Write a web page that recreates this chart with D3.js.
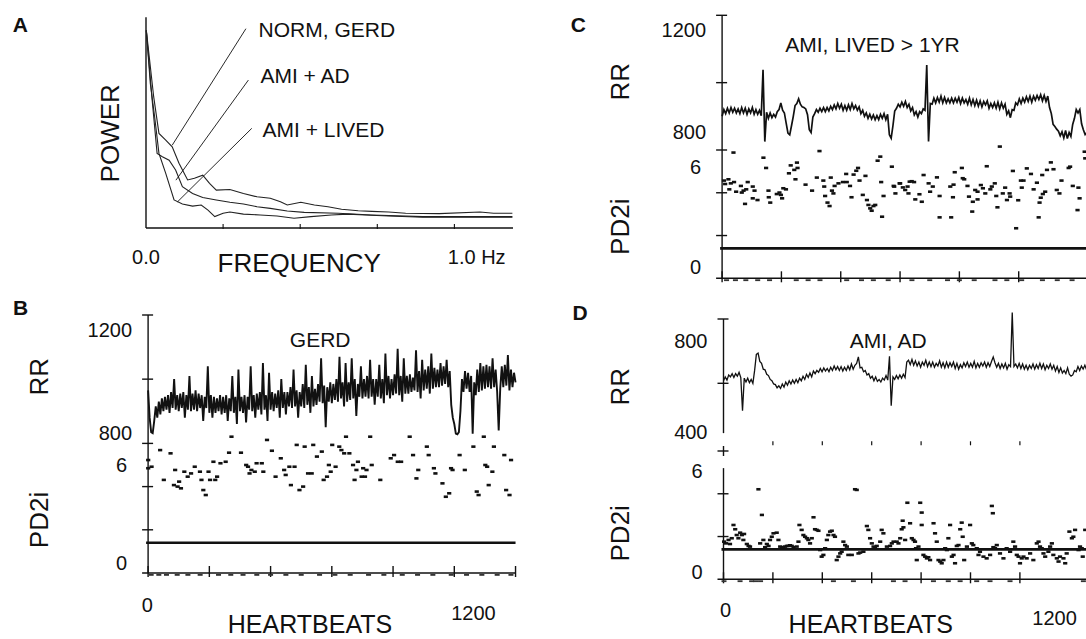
<!DOCTYPE html>
<html>
<head>
<meta charset="utf-8">
<script src="https://cdn.jsdelivr.net/npm/d3@7"></script>
<style>
  body { margin: 0; background: #fff; }
  svg { display: block; font-family: "Liberation Sans", Arial, Helvetica, sans-serif; }
</style>
</head>
<body>
<script>
// ---------- panel A : power spectra (Hz, relative power) ----------
const normGerdSpectrum = [[0.001, 93.8], [0.025, 62.2], [0.042, 44.9], [0.064, 41.7], [0.085, 38.5], [0.107, 30.7],
    [0.135, 22.8], [0.157, 23.6], [0.184, 25.1], [0.206, 21.2], [0.228, 18.0], [0.272, 18.3], [0.316, 16.4],
    [0.360, 14.8], [0.403, 14.1], [0.436, 12.5], [0.458, 10.9], [0.502, 12.2], [0.546, 10.9], [0.590, 10.1],
    [0.634, 8.9], [0.688, 8.2], [0.732, 7.9], [0.787, 7.6], [0.842, 7.0], [0.951, 6.8], [1.083, 7.6],
    [1.127, 7.0], [1.188, 7.0]];
const amiAdSpectrum = [[0.001, 93.8], [0.020, 60.7], [0.036, 35.4], [0.053, 33.8], [0.075, 32.2], [0.096, 27.5],
    [0.118, 19.6], [0.151, 16.4], [0.184, 14.5], [0.228, 13.3], [0.272, 12.2], [0.316, 11.4], [0.360, 10.1],
    [0.403, 9.3], [0.458, 8.1], [0.513, 7.4], [0.623, 7.0], [0.732, 6.2], [0.897, 5.4], [1.188, 5.4]];
const amiLivedSpectrum = [[0.001, 93.8], [0.014, 68.6], [0.028, 52.8], [0.042, 35.4], [0.064, 25.9], [0.091, 13.3],
    [0.118, 11.4], [0.151, 10.4], [0.179, 10.9], [0.201, 8.5], [0.223, 5.4], [0.250, 7.0], [0.272, 7.6],
    [0.316, 6.6], [0.370, 6.2], [0.425, 5.7], [0.480, 4.6], [0.535, 5.4], [0.601, 6.2], [0.655, 6.6],
    [0.710, 6.2], [0.787, 5.7], [0.897, 5.1], [1.188, 5.1]];
const spectrumNames = ['NORM, GERD', 'AMI + AD', 'AMI + LIVED'];
const leaderFrom = [[0.085, 39.3], [0.097, 22.7], [0.102, 12.4]];
const leaderTo = [[0.324, 94.6], [0.332, 70.2], [0.343, 47.3]];
const spectrumLabelAt = [[0.365, 90.7], [0.371, 68.7], [0.378, 43.3]];
const freqTicks = [0, 0.25, 0.5, 0.75, 1.0];
const freqLabels = ['0.0', '1.0 Hz'];

// ---------- panel B : GERD (RR every 5 beats) ----------
const gerdRR = [
    965, 880, 835, 832, 870, 915, 880, 930, 890, 940,
    900, 945, 905, 950, 895, 960, 910, 1000, 905, 950,
    900, 955, 910, 960, 880, 950, 905, 1010, 900, 955,
    905, 965, 900, 955, 910, 950, 870, 945, 910, 1040,
    895, 950, 880, 945, 895, 940, 900, 950, 890, 945,
    895, 950, 870, 940, 900, 1010, 895, 945, 860, 1030,
    900, 945, 895, 950, 865, 945, 905, 1040, 900, 950,
    880, 955, 905, 960, 890, 1050, 905, 950, 870, 1020,
    905, 960, 900, 955, 910, 965, 880, 1000, 910, 960,
    890, 960, 915, 975, 910, 1030, 915, 965, 880, 960,
    915, 985, 910, 1045, 920, 975, 895, 1010, 915, 970,
    920, 985, 930, 1065, 925, 980, 850, 975, 930, 990,
    925, 985, 935, 1000, 930, 1070, 940, 990, 915, 1050,
    930, 990, 935, 1065, 940, 1000, 885, 985, 945, 1040,
    940, 1000, 945, 1010, 940, 1060, 945, 1000, 920, 1000,
    945, 1045, 940, 1000, 925, 1080, 950, 1010, 940, 1000,
    950, 1015, 955, 1095, 950, 1010, 930, 1065, 955, 1010,
    955, 1015, 960, 1005, 965, 1090, 960, 1025, 940, 1060,
    965, 1030, 970, 1040, 955, 1080, 970, 1035, 975, 1030,
    975, 1050, 980, 1040, 985, 1060, 975, 1025, 920, 880,
    860, 830, 828, 835, 900, 1000, 960, 1025, 970, 1020,
    960, 1010, 830, 990, 950, 1030, 960, 1050, 965, 1040,
    970, 1045, 975, 1040, 970, 1065, 975, 1030, 960, 840,
    970, 1040, 975, 1045, 980, 1075, 965, 1030, 975, 1020,
    990];
const gerdPD2i = [[0, 5.23], [0, 4.85], [11, 4.92], [39, 5.69], [51, 4.31], [73, 5.54], [88, 4.77], [84, 4.07],
    [96, 4.0], [107, 3.92], [101, 4.23], [118, 4.69], [129, 4.46], [140, 4.61], [152, 4.92], [169, 4.69],
    [174, 4.31], [180, 3.84], [188, 3.61], [197, 4.69], [202, 4.31], [213, 5.15], [219, 4.31], [225, 4.46],
    [236, 5.08], [253, 5.15], [264, 5.57], [272, 6.31], [303, 5.57], [320, 5.0], [326, 4.92], [331, 4.61],
    [337, 4.77], [348, 4.69], [354, 5.08], [371, 5.08], [376, 4.69], [388, 6.16], [404, 5.66], [416, 4.46],
    [433, 5.31], [444, 4.77], [449, 4.54], [461, 4.92], [466, 4.07], [478, 4.92], [485, 5.93], [494, 3.84],
    [506, 4.0], [511, 5.85], [522, 4.61], [534, 4.61], [539, 5.93], [551, 5.39], [567, 5.62], [573, 4.31],
    [584, 4.46], [590, 5.0], [596, 4.69], [601, 5.93], [612, 4.92], [624, 5.85], [631, 5.69], [640, 5.54],
    [646, 6.31], [657, 5.54], [669, 5.0], [674, 4.31], [680, 4.77], [685, 5.15], [697, 4.46], [702, 4.85],
    [708, 4.46], [713, 4.77], [725, 6.31], [730, 5.0], [758, 4.31], [792, 5.31], [803, 5.46], [815, 5.15],
    [826, 5.15], [854, 6.31], [865, 5.46], [876, 4.38], [882, 4.77], [910, 5.85], [916, 5.46], [933, 4.85],
    [938, 4.61], [961, 4.15], [972, 3.53], [983, 3.69], [989, 4.85], [994, 4.77], [1017, 5.46], [1034, 4.77],
    [1062, 5.85], [1073, 3.77], [1079, 3.61], [1096, 6.31], [1101, 5.0], [1107, 4.92], [1112, 4.07],
    [1124, 4.69], [1129, 5.85], [1163, 5.46], [1169, 3.84], [1180, 3.61], [1185, 5.23]];
const gerdZeroBeats = [10, 35, 60, 95, 130, 170, 230, 270, 310, 355, 400, 450, 500, 560, 610, 660, 720, 770,
    830, 880, 930, 990, 1040, 1090, 1140, 1185];

// ---------- panel C : AMI, lived > 1 yr (RR every 6 beats) ----------
const livedRR = [
    900, 920, 908, 924, 910, 926, 912, 924, 910, 922,
    908, 926, 910, 924, 906, 922, 910, 926, 906, 920,
    906, 918, 902, 1038, 825, 912, 894, 910, 896, 906,
    898, 914, 920, 940, 918, 910, 880, 850, 845, 872,
    900, 932, 938, 952, 936, 928, 926, 922, 905, 860,
    852, 898, 908, 920, 912, 924, 914, 926, 914, 926,
    916, 930, 920, 934, 922, 938, 924, 936, 918, 932,
    918, 934, 920, 938, 922, 932, 918, 928, 908, 918,
    900, 910, 894, 906, 892, 904, 890, 902, 890, 906,
    894, 908, 890, 906, 845, 835, 872, 916, 924, 936,
    928, 942, 930, 944, 926, 936, 916, 926, 904, 914,
    898, 914, 908, 922, 918, 1052, 825, 938, 936, 954,
    940, 956, 942, 960, 940, 956, 940, 952, 940, 954,
    940, 954, 942, 956, 938, 954, 940, 950, 936, 954,
    934, 950, 932, 948, 930, 946, 928, 944, 934, 946,
    924, 938, 926, 940, 924, 942, 922, 940, 924, 936,
    906, 916, 896, 920, 918, 940, 934, 952, 938, 954,
    942, 958, 944, 960, 942, 960, 948, 962, 950, 964,
    946, 962, 944, 960, 926, 908, 876, 870, 862, 856,
    842, 854, 836, 858, 834, 852, 840, 876, 894, 920,
    910, 920, 878, 860, 846, 852];
const livedPD2i = [[38, 5.88], [6, 4.57], [10, 4.41], [21, 4.63], [29, 4.44], [40, 4.50], [24, 4.16], [47, 4.05],
    [63, 4.32], [66, 4.01], [72, 4.10], [81, 4.16], [86, 4.50], [77, 3.48], [103, 4.29], [109, 4.10], [103, 3.74],
    [119, 3.66], [139, 5.64], [148, 5.16], [156, 4.10], [157, 3.79], [162, 3.54], [184, 3.94], [193, 4.01],
    [198, 3.90], [202, 3.74], [206, 4.21], [215, 4.16], [225, 4.91], [231, 5.28], [243, 5.07], [252, 5.41],
    [254, 5.16], [247, 4.63], [281, 4.38], [303, 4.10], [319, 4.71], [328, 5.95], [341, 4.57], [344, 4.29],
    [347, 3.85], [355, 3.54], [362, 3.38], [366, 4.71], [370, 4.10], [375, 3.97], [379, 4.32], [392, 4.44],
    [407, 4.50], [418, 4.88], [420, 4.50], [431, 4.32], [436, 3.79], [443, 4.85], [452, 5.03], [458, 5.16],
    [463, 4.57], [474, 3.90], [483, 4.79], [488, 3.66], [493, 3.43], [499, 3.27], [504, 3.16], [510, 3.38],
    [516, 3.43], [524, 5.50], [533, 5.69], [536, 4.50], [539, 2.88], [544, 3.85], [572, 5.22], [580, 4.29],
    [584, 3.97], [598, 4.44],
    [578, 4.32], [600, 4.44], [609, 4.25], [617, 4.13], [625, 4.29], [632, 4.52], [639, 4.54], [647, 4.50],
    [628, 3.97], [651, 3.69], [665, 3.93], [673, 3.58], [679, 4.83], [696, 4.44], [701, 4.05], [710, 4.29],
    [724, 4.72], [733, 3.85], [733, 2.85], [772, 2.85], [778, 3.79], [769, 4.29], [780, 4.38], [784, 4.96],
    [808, 5.16], [816, 4.63], [811, 4.68], [827, 4.32], [832, 3.82], [845, 3.58], [843, 3.12], [853, 4.13],
    [861, 3.69], [861, 4.05], [872, 4.36], [879, 4.21], [887, 3.97], [892, 5.24], [904, 4.16], [909, 4.29],
    [919, 4.44], [924, 3.85], [928, 3.32], [936, 6.16], [946, 3.97], [954, 4.24], [960, 3.66], [969, 3.97],
    [971, 3.82], [980, 5.02], [991, 2.34], [998, 3.65], [1007, 4.57], [1010, 4.24], [1016, 4.57], [1027, 5.14],
    [1041, 4.88], [1050, 4.16], [1061, 4.47], [1067, 2.85], [1070, 3.54], [1074, 3.77], [1081, 3.94],
    [1089, 4.05], [1079, 4.83], [1095, 5.07], [1108, 5.42], [1117, 5.10], [1128, 4.13], [1137, 3.97],
    [1144, 4.57], [1168, 5.16], [1173, 5.22], [1182, 4.32], [1198, 3.19], [1201, 4.24], [1205, 3.74],
    [1222, 5.92], [1224, 5.61]];
const livedZeroBeats = [15, 45, 80, 120, 160, 250, 290, 330, 420, 470, 510, 560, 640, 700, 760, 800, 850, 920,
    960, 1010, 1080, 1130, 1180, 1240];

// ---------- panel D : AMI, arrhythmic death (RR every 7 beats) ----------
const adRR = [
    608, 620, 610, 626, 620, 630, 618, 630, 622, 634,
    618, 515, 616, 604, 616, 602, 612, 600, 640, 690,
    694, 668, 662, 644, 642, 628, 624, 612, 608, 598,
    596, 586, 592, 584, 598, 588, 604, 594, 608, 598,
    610, 600, 612, 602, 616, 608, 622, 612, 628, 618,
    632, 620, 638, 630, 640, 634, 646, 636, 648, 638,
    646, 636, 650, 640, 654, 642, 652, 640, 652, 638,
    650, 640, 654, 642, 660, 644, 656, 662, 682, 648,
    650, 636, 640, 626, 630, 616, 622, 608, 620, 606,
    612, 604, 616, 610, 624, 610, 684, 530, 620, 612,
    624, 614, 626, 616, 628, 618, 666, 672, 658, 674,
    656, 670, 654, 666, 650, 666, 656, 672, 652, 666,
    652, 666, 650, 662, 654, 670, 650, 664, 648, 666,
    650, 664, 652, 666, 646, 662, 644, 658, 648, 664,
    652, 666, 650, 662, 650, 668, 648, 662, 650, 664,
    654, 666, 650, 664, 652, 668, 682, 664, 650, 662,
    646, 660, 648, 662, 644, 658, 652, 820, 652, 660,
    648, 662, 646, 660, 644, 656, 642, 656, 646, 660,
    644, 658, 646, 662, 646, 660, 642, 656, 646, 660,
    644, 656, 638, 652, 634, 648, 632, 640, 630, 648,
    628, 622, 626, 640, 636, 652, 640, 654, 644, 656,
    642, 652];
const adPD2i = [[2, 1.76], [10, 1.68], [20, 1.84], [26, 1.65], [33, 1.92], [40, 2.54], [47, 2.34], [53, 2.07],
    [60, 1.92], [67, 2.18], [74, 2.07], [80, 1.84], [83, 2.12], [94, 1.65], [101, 1.56], [107, 1.53], [141, 4.21],
    [155, 3.01], [148, 1.68], [161, 1.84], [168, 1.50], [175, 1.65], [182, 1.56], [188, 1.84], [195, 1.99],
    [202, 2.15], [215, 2.18], [222, 1.84], [229, 1.53], [236, 1.50], [242, 1.50], [249, 1.53], [256, 1.56],
    [262, 1.56], [269, 1.59], [276, 1.56], [283, 1.50], [296, 1.53], [303, 1.76], [307, 2.54], [316, 2.31],
    [323, 2.07], [330, 1.99], [337, 1.92], [343, 1.84], [350, 1.68], [357, 1.92], [364, 2.90], [370, 2.34],
    [377, 2.31], [384, 2.27], [391, 1.37], [397, 1.06], [404, 1.14], [411, 1.45], [418, 1.84], [424, 2.07],
    [431, 2.23], [438, 2.27], [445, 2.07], [451, 1.99], [458, 0.90], [465, 1.06], [472, 1.21], [478, 1.29],
    [485, 1.76], [492, 1.60], [499, 1.53], [505, 1.14], [519, 1.14], [532, 4.21], [539, 4.18], [546, 1.21],
    [553, 1.25], [566, 1.29], [580, 2.49], [586, 2.31], [593, 1.92], [600, 1.68], [607, 1.53], [613, 1.45],
    [620, 1.56], [634, 1.76], [640, 2.31], [647, 2.15], [661, 1.53], [674, 1.56], [681, 1.68], [688, 1.76],
    [701, 1.76], [708, 1.68],
    [715, 1.92], [721, 2.34], [728, 2.43], [725, 2.74], [735, 1.84], [744, 3.58], [755, 2.62], [762, 1.92],
    [769, 1.84], [775, 1.76], [779, 1.45], [782, 0.90], [789, 1.53], [796, 3.58], [802, 3.12], [802, 2.54],
    [809, 1.14], [816, 1.06], [823, 0.98], [829, 1.03], [836, 0.90], [850, 2.62], [856, 2.15], [863, 1.76],
    [870, 0.90], [877, 0.83], [883, 0.75], [890, 0.90], [897, 1.45], [904, 1.37], [910, 1.92], [917, 2.54],
    [924, 1.06], [931, 1.14], [937, 0.75], [944, 1.56], [951, 1.60], [958, 2.34], [964, 2.65], [968, 1.99],
    [974, 0.90], [985, 1.53], [998, 2.54], [1005, 1.68], [1011, 1.60], [1025, 1.45], [1032, 1.14], [1038, 1.29],
    [1052, 1.06], [1065, 0.98], [1079, 1.14], [1086, 3.43], [1090, 3.09], [1092, 1.50], [1099, 1.45],
    [1106, 1.60], [1119, 1.21], [1133, 0.98], [1146, 1.45], [1160, 1.29], [1173, 1.76], [1180, 1.53],
    [1187, 1.14], [1194, 1.06], [1200, 0.75], [1207, 0.98], [1214, 1.06], [1227, 0.98], [1241, 1.21],
    [1254, 0.90], [1268, 1.68], [1275, 1.76], [1281, 1.53], [1288, 1.45], [1295, 1.21], [1302, 1.06],
    [1315, 1.29], [1322, 1.53], [1329, 1.68], [1335, 1.14], [1349, 0.98], [1356, 0.83], [1362, 1.06],
    [1376, 0.98], [1383, 0.75], [1389, 1.21], [1400, 2.23], [1410, 1.92], [1416, 1.99], [1423, 2.31],
    [1437, 1.37], [1443, 1.53], [1450, 1.45], [1454, 1.06], [1464, 2.31]];
const adZeroBeats = [2, 67, 114, 130, 150, 445, 526, 688, 735, 850, 910, 958, 1025, 1079, 1160, 1457];

const pd2iThreshold = 1.4;
const beatLabels = ['0', '1200'];

const svg = d3.select('body').append('svg')
    .attr('width', 1086)
    .attr('height', 639);

const addText = (g, x, y, str, size, anchor = 'middle', opts = {}) => {
    const t = g.append('text')
        .attr('x', x)
        .attr('y', y)
        .attr('text-anchor', anchor)
        .attr('font-size', size)
        .attr('fill', '#111')
        .text(str);
    if (opts.bold) t.attr('font-weight', 'bold');
    if (opts.central) t.attr('dy', '0.35em');
    if (opts.rotate) t.attr('transform', `rotate(-90,${x},${y})`);
    return t;
};

const addLine = (g, x1, y1, x2, y2, w = 1.4) => g.append('line')
    .attr('x1', x1).attr('y1', y1).attr('x2', x2).attr('y2', y2)
    .attr('stroke', '#111').attr('stroke-width', w);

// ---------- panel A ----------
const renderSpectra = () => {
    const g = svg.append('g').attr('class', 'panel-a');
    const fx = d3.scaleLinear().domain([0, 1]).range([146, 454.4]);
    const fy = d3.scaleLinear().domain([0, 100]).range([228, 17.3]);

    addLine(g, fx(0), fy(100), fx(0), fy(0));
    addLine(g, fx(0), fy(0), fx(1.19), fy(0));
    freqTicks.slice(1).forEach(t => addLine(g, fx(t), fy(0) - 4, fx(t), fy(0) + 1, 1.1));

    const line = d3.line().x(d => fx(d[0])).y(d => fy(d[1]));
    [normGerdSpectrum, amiAdSpectrum, amiLivedSpectrum].forEach(s => {
        g.append('path').attr('d', line(s))
            .attr('fill', 'none').attr('stroke', '#222').attr('stroke-width', 1.1);
    });

    spectrumNames.forEach((name, i) => {
        addLine(g, fx(leaderFrom[i][0]), fy(leaderFrom[i][1]), fx(leaderTo[i][0]), fy(leaderTo[i][1]), 0.9);
        addText(g, fx(spectrumLabelAt[i][0]), fy(spectrumLabelAt[i][1]), name, 21, 'start');
    });

    addText(g, fx(0), 256.7, freqLabels[0], 20, 'middle', { central: true });
    addText(g, fx(1) + 22.3, 256.7, freqLabels[1], 20, 'middle', { central: true });
    addText(g, 299.2, 271.7, 'FREQUENCY', 26);
    addText(g, 109.9, 133.3, 'POWER', 26, 'middle', { central: true, rotate: true });
    addText(g, 20.3, 25, 'A', 21, 'middle', { central: true, bold: true });
};

// ---------- panels B, C, D ----------
const renderHeartPanel = (p) => {
    const g = svg.append('g').attr('class', `panel-${p.letter.toLowerCase()}`);
    const x = d3.scaleLinear().domain([0, 1000]).range(p.xRange);
    const rr = d3.scaleLinear().domain(p.rrDomain).range(p.rrRange);
    const pd = d3.scaleLinear().domain([0, 6]).range(p.pdRange);
    const x0 = x(0);
    const y0 = pd(0);
    const xEnd = x(p.axisEndBeat);

    // vertical axis
    p.axisSegments(rr, pd).forEach(([a, b]) => addLine(g, x0, a, x0, b));
    p.rrTicks.forEach(v => addLine(g, x0 - 6, rr(v), x0 + 5, rr(v)));
    p.pdTicks.forEach(v => addLine(g, x0 - 6, pd(v), x0 + 5, pd(v)));
    if (p.plusMark) addLine(g, x0, pd(6) - 5, x0, pd(6) + 5);

    // horizontal axis
    addLine(g, x0 - 6, y0, xEnd, y0);
    p.beatTicks.forEach(b => addLine(g, x(b), y0 - 7, x(b), y0 + 4));
    p.hiddenTicks.forEach(b => addLine(g, x(b), p.hiddenTickY - 2, x(b), p.hiddenTickY + 2, 1.2));

    // PD2i threshold
    g.append('line')
        .attr('x1', x0 - 2).attr('x2', xEnd)
        .attr('y1', pd(pd2iThreshold)).attr('y2', pd(pd2iThreshold))
        .attr('stroke', '#111').attr('stroke-width', 2.6);

    // RR trace
    const rrLine = d3.line()
        .x((d, i) => x(i * p.rrStep))
        .y(d => rr(d));
    g.append('path').attr('d', rrLine(p.rr))
        .attr('fill', 'none').attr('stroke', '#111')
        .attr('stroke-width', p.rrWidth);

    // PD2i dots
    g.append('g').selectAll('rect')
        .data(p.pd2i)
        .enter()
        .append('rect')
        .attr('x', d => x(d[0]) - 2)
        .attr('y', d => pd(d[1]) - 1.3)
        .attr('width', 4.2)
        .attr('height', 2.6)
        .attr('fill', '#111');
    g.append('g').selectAll('rect')
        .data(p.zeros)
        .enter()
        .append('rect')
        .attr('x', d => x(d) - 2.5)
        .attr('y', y0 + 1)
        .attr('width', 5)
        .attr('height', 1.8)
        .attr('fill', '#333');

    // texts
    p.rrLabels.forEach(([txt, y]) => addText(g, x0 - 16, y, txt, 20, 'end', { central: true }));
    p.pdLabels.forEach(([txt, y]) => addText(g, x0 - 21, y, txt, 20, 'end', { central: true }));
    addText(g, p.yTitleX, p.rrTitleY, 'RR', 26, 'middle', { central: true, rotate: true });
    addText(g, p.yTitleX, p.pdTitleY, 'PD2i', 26, 'middle', { central: true, rotate: true });
    addText(g, p.titleAt[0], p.titleAt[1], p.title, 21, 'middle', { central: true });
    addText(g, p.letterAt[0], p.letterAt[1], p.letter, 21, 'middle', { central: true, bold: true });
    if (p.beatLabelAt) {
        addText(g, p.beatLabelAt[0][0], p.beatLabelAt[0][1], beatLabels[0], 20, 'middle', { central: true });
        addText(g, p.beatLabelAt[1][0], p.beatLabelAt[1][1], beatLabels[1], 20, 'middle', { central: true });
        addText(g, p.xTitleAt[0], p.xTitleAt[1], 'HEARTBEATS', 25);
    }
};

renderSpectra();

renderHeartPanel({
    letter: 'B', letterAt: [20.7, 308], title: 'GERD', titleAt: [320.2, 339.3],
    rr: gerdRR, rrStep: 5, rrWidth: 1.9, pd2i: gerdPD2i, zeros: gerdZeroBeats,
    xRange: [148.1, 454.3], axisEndBeat: 1200,
    rrDomain: [800, 1200], rrRange: [443.3, 315], pdRange: [573, 443.4],
    axisSegments: (rr, pd) => [[rr(1200), pd(0)]],
    rrTicks: [1000, 1200], pdTicks: [2, 4, 6], plusMark: false,
    beatTicks: [0, 200, 400, 600, 800, 1000, 1200], hiddenTicks: [], hiddenTickY: 0,
    rrLabels: [['1200', 330], ['800', 433.3]], pdLabels: [['6', 465], ['0', 563.3]],
    yTitleX: 38.6, rrTitleY: 376.7, pdTitleY: 520,
    beatLabelAt: [[147.4, 605], [473.5, 613.3]], xTitleAt: [310, 633]
});

renderHeartPanel({
    letter: 'C', letterAt: [578.3, 25], title: 'AMI, LIVED > 1YR', titleAt: [872.5, 45],
    rr: livedRR, rrStep: 6, rrWidth: 1.7, pd2i: livedPD2i, zeros: livedZeroBeats,
    xRange: [722.1, 1018.7], axisEndBeat: 1300,
    rrDomain: [800, 1200], rrRange: [150, 15.3], pdRange: [278.3, 150],
    axisSegments: (rr, pd) => [[rr(1200), pd(0)]],
    rrTicks: [1000, 1200], pdTicks: [2, 4, 6], plusMark: false,
    beatTicks: [0, 200, 400, 600, 800, 1000], hiddenTicks: [], hiddenTickY: 0,
    rrLabels: [['1200', 30], ['800', 131.7]], pdLabels: [['6', 166.7], ['0', 266.7]],
    yTitleX: 620.1, rrTitleY: 81.7, pdTitleY: 226.7,
    beatLabelAt: null
});

renderHeartPanel({
    letter: 'D', letterAt: [580, 313], title: 'AMI, AD', titleAt: [888.2, 341],
    rr: adRR, rrStep: 7, rrWidth: 1.3, pd2i: adPD2i, zeros: adZeroBeats,
    xRange: [723.5, 970.5], axisEndBeat: 1500,
    rrDomain: [400, 800], rrRange: [447.6, 319], pdRange: [579.3, 451],
    axisSegments: (rr, pd) => [[rr(800), rr(445)], [pd(5.2), pd(0)]],
    rrTicks: [600, 800], pdTicks: [2, 4, 6], plusMark: true,
    beatTicks: [0, 200, 400, 600, 800, 1000, 1200], hiddenTicks: [200, 400, 600, 800, 1000, 1200],
    hiddenTickY: 443.3,
    rrLabels: [['800', 341], ['400', 431.7]], pdLabels: [['6', 470.7], ['0', 571.7]],
    yTitleX: 620, rrTitleY: 386.7, pdTitleY: 533.3,
    beatLabelAt: [[725.6, 610], [1054.6, 618.3]], xTitleAt: [870.8, 633]
});
</script>
</body>
</html>
